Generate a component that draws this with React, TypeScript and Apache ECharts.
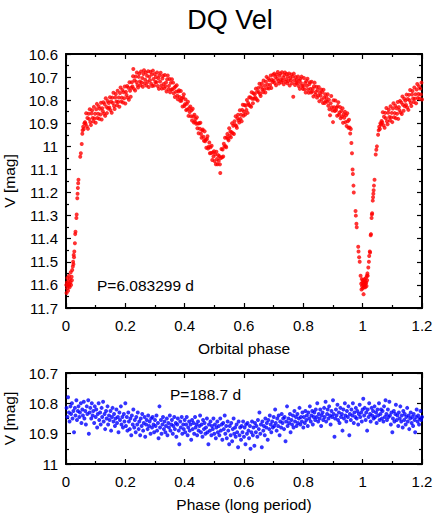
import React, { useEffect, useRef } from "react";
import * as echarts from "echarts";

// ---- Orbital light curve (red), [phase, V mag] ----
const redEgress: number[][] = [
  [0.001, 11.6], [0.002, 11.635], [0.003, 11.59], [0.004, 11.615], [0.005, 11.57], [0.006, 11.6], [0.007, 11.625],
  [0.008, 11.585], [0.009, 11.605], [0.01, 11.56], [0.011, 11.595], [0.012, 11.61], [0.013, 11.575], [0.015, 11.59],
  [0.016, 11.545], [0.017, 11.6], [0.019, 11.565], [0.02, 11.58], [0.021, 11.535], [0.023, 11.52], [0.024, 11.5],
  [0.025, 11.51], [0.026, 11.47], [0.027, 11.48], [0.028, 11.455], [0.03, 11.42], [0.031, 11.38], [0.032, 11.37],
  [0.035, 11.31], [0.036, 11.295], [0.038, 11.225], [0.039, 11.205], [0.04, 11.18], [0.041, 11.16], [0.042, 11.145],
  [0.048, 11.045], [0.05, 11.03], [0.053, 10.99], [0.055, 10.945], [0.056, 10.93], [0.058, 10.915], [0.06, 10.925],
  [0.062, 10.9], [0.064, 10.895],
];
const redRise: number[][] = [
  [0.066, 10.902], [0.068, 10.857], [0.07, 10.913], [0.072, 10.877], [0.074, 10.924], [0.076, 10.859], [0.078, 10.882],
  [0.08, 10.839], [0.082, 10.895], [0.084, 10.908], [0.086, 10.858], [0.088, 10.844], [0.09, 10.877], [0.092, 10.892],
  [0.094, 10.829], [0.096, 10.879], [0.098, 10.859], [0.1, 10.898], [0.102, 10.839], [0.104, 10.816], [0.106, 10.877],
  [0.108, 10.859], [0.11, 10.826], [0.112, 10.881], [0.114, 10.837], [0.116, 10.862], [0.118, 10.811], [0.12, 10.884],
  [0.122, 10.835], [0.124, 10.848], [0.126, 10.809], [0.128, 10.859], [0.13, 10.817], [0.132, 10.868], [0.134, 10.792],
  [0.136, 10.829], [0.138, 10.856], [0.14, 10.804], [0.142, 10.836], [0.144, 10.812], [0.146, 10.832], [0.148, 10.787],
  [0.15, 10.843], [0.152, 10.806], [0.154, 10.854], [0.156, 10.789], [0.158, 10.812], [0.16, 10.768], [0.162, 10.825],
  [0.164, 10.838], [0.166, 10.788], [0.168, 10.773], [0.17, 10.806], [0.172, 10.822], [0.174, 10.759], [0.176, 10.808],
  [0.178, 10.788], [0.18, 10.828], [0.182, 10.769], [0.184, 10.745], [0.186, 10.806], [0.188, 10.789], [0.19, 10.756],
  [0.192, 10.81], [0.194, 10.766], [0.196, 10.792], [0.198, 10.741], [0.2, 10.814], [0.202, 10.764], [0.204, 10.778],
  [0.206, 10.739], [0.208, 10.789], [0.21, 10.746], [0.212, 10.798], [0.214, 10.722], [0.216, 10.759], [0.218, 10.785],
];
const redMaxA: number[][] = [
  [0.22, 10.746], [0.222, 10.722], [0.224, 10.741], [0.226, 10.696], [0.227, 10.665], [0.229, 10.751], [0.231, 10.714],
  [0.233, 10.758], [0.235, 10.697], [0.237, 10.721], [0.239, 10.68], [0.241, 10.734], [0.243, 10.745], [0.245, 10.699],
  [0.247, 10.685], [0.249, 10.719], [0.251, 10.735], [0.253, 10.676], [0.255, 10.723], [0.257, 10.704], [0.259, 10.742],
  [0.261, 10.687], [0.263, 10.67], [0.265, 10.727], [0.267, 10.711], [0.269, 10.68], [0.271, 10.736], [0.273, 10.694],
  [0.275, 10.721], [0.277, 10.675], [0.279, 10.743], [0.281, 10.699], [0.283, 10.714], [0.285, 10.677], [0.287, 10.729],
  [0.289, 10.689], [0.291, 10.739], [0.293, 10.672], [0.295, 10.708], [0.297, 10.736], [0.299, 10.687], [0.301, 10.721],
  [0.303, 10.7], [0.305, 10.722], [0.307, 10.68], [0.309, 10.739], [0.311, 10.705], [0.313, 10.751], [0.315, 10.693],
  [0.317, 10.719], [0.319, 10.681], [0.321, 10.737], [0.323, 10.75], [0.325, 10.706], [0.327, 10.694], [0.329, 10.73],
  [0.331, 10.748], [0.333, 10.691], [0.335, 10.74], [0.337, 10.723], [0.339, 10.762], [0.341, 10.709], [0.343, 10.693],
  [0.345, 10.753], [0.347, 10.738], [0.349, 10.708], [0.351, 10.766], [0.353, 10.725], [0.355, 10.754], [0.357, 10.709],
];
const redFall: number[][] = [
  [0.359, 10.753], [0.361, 10.724], [0.363, 10.77], [0.365, 10.746], [0.367, 10.786], [0.369, 10.741], [0.371, 10.763],
  [0.373, 10.735], [0.375, 10.781], [0.377, 10.796], [0.379, 10.762], [0.381, 10.757], [0.383, 10.786], [0.385, 10.803],
  [0.387, 10.76], [0.389, 10.802], [0.391, 10.792], [0.393, 10.827], [0.395, 10.787], [0.397, 10.774], [0.399, 10.825],
  [0.401, 10.817], [0.403, 10.797], [0.405, 10.843], [0.407, 10.816], [0.409, 10.84], [0.411, 10.807], [0.413, 10.868],
  [0.415, 10.835], [0.417, 10.851], [0.419, 10.827], [0.421, 10.87], [0.423, 10.844], [0.425, 10.888], [0.427, 10.837],
  [0.429, 10.871], [0.431, 10.897], [0.433, 10.863], [0.435, 10.894], [0.437, 10.881], [0.439, 10.902], [0.441, 10.874],
  [0.443, 10.922], [0.445, 10.901], [0.447, 10.943], [0.449, 10.9], [0.451, 10.924], [0.453, 10.898], [0.455, 10.946],
  [0.457, 10.963], [0.459, 10.931], [0.461, 10.927], [0.463, 10.958], [0.465, 10.976], [0.467, 10.935], [0.469, 10.978],
];
const redSecondary: number[][] = [
  [0.471, 10.97], [0.473, 11.006], [0.475, 10.968], [0.477, 10.956], [0.479, 11.009], [0.481, 11.002], [0.483, 10.983],
  [0.485, 11.03], [0.487, 11.004], [0.489, 11.029], [0.491, 10.997], [0.493, 11.059], [0.495, 11.027], [0.497, 11.044],
  [0.499, 11.021], [0.501, 11.064], [0.503, 11.035], [0.505, 11.077], [0.507, 11.023], [0.509, 11.055], [0.511, 11.077],
  [0.513, 11.038], [0.515, 11.062], [0.517, 11.043], [0.519, 11.078], [0.52, 11.115], [0.522, 11.05], [0.524, 11.011],
  [0.526, 11.047], [0.528, 11.014], [0.53, 11.044], [0.532, 10.989], [0.534, 11.001], [0.536, 10.963], [0.538, 10.999],
  [0.54, 11.004], [0.542, 10.961], [0.544, 10.946], [0.546, 10.967], [0.548, 10.974], [0.55, 10.922], [0.552, 10.954],
  [0.554, 10.936], [0.556, 10.961],
];
const redRiseB: number[][] = [
  [0.558, 10.939], [0.56, 10.9], [0.562, 10.943], [0.564, 10.911], [0.566, 10.946], [0.568, 10.891], [0.57, 10.907],
  [0.572, 10.87], [0.574, 10.912], [0.576, 10.92], [0.578, 10.878], [0.58, 10.863], [0.582, 10.887], [0.584, 10.897],
  [0.586, 10.844], [0.588, 10.881], [0.59, 10.863], [0.592, 10.891], [0.594, 10.842], [0.596, 10.82], [0.598, 10.867],
  [0.6, 10.85], [0.602, 10.821], [0.604, 10.862], [0.606, 10.824], [0.608, 10.842], [0.61, 10.799], [0.612, 10.855],
  [0.614, 10.812], [0.616, 10.82], [0.618, 10.787], [0.62, 10.824], [0.622, 10.788], [0.624, 10.828], [0.626, 10.766],
  [0.628, 10.794], [0.63, 10.813], [0.632, 10.77], [0.634, 10.794], [0.636, 10.774], [0.638, 10.788], [0.64, 10.75],
  [0.642, 10.795], [0.644, 10.764], [0.646, 10.801], [0.648, 10.747], [0.65, 10.765], [0.652, 10.729], [0.654, 10.773],
  [0.656, 10.782], [0.658, 10.742], [0.66, 10.728], [0.662, 10.754], [0.664, 10.766], [0.666, 10.715], [0.668, 10.753],
  [0.67, 10.737], [0.672, 10.767], [0.674, 10.72], [0.676, 10.699], [0.678, 10.748], [0.68, 10.733], [0.682, 10.706],
  [0.684, 10.749], [0.686, 10.714], [0.688, 10.734], [0.69, 10.693], [0.692, 10.747], [0.694, 10.711], [0.696, 10.721],
  [0.698, 10.69],
];
const redMaxB: number[][] = [
  [0.7, 10.716], [0.702, 10.685], [0.704, 10.726], [0.706, 10.7], [0.708, 10.735], [0.71, 10.69], [0.712, 10.707],
  [0.714, 10.678], [0.716, 10.717], [0.718, 10.728], [0.72, 10.694], [0.722, 10.685], [0.724, 10.71], [0.726, 10.722],
  [0.728, 10.679], [0.73, 10.715], [0.732, 10.702], [0.734, 10.731], [0.736, 10.691], [0.738, 10.68], [0.74, 10.72],
  [0.742, 10.709], [0.744, 10.687], [0.746, 10.727], [0.748, 10.698], [0.75, 10.717], [0.752, 10.684], [0.754, 10.736],
  [0.756, 10.704], [0.758, 10.714], [0.76, 10.689], [0.762, 10.727], [0.764, 10.698], [0.766, 10.785], [0.768, 10.685],
  [0.77, 10.714], [0.772, 10.734], [0.774, 10.7], [0.776, 10.725], [0.778, 10.711], [0.78, 10.726], [0.782, 10.697],
  [0.784, 10.739], [0.786, 10.715], [0.788, 10.751], [0.79, 10.708], [0.792, 10.726], [0.794, 10.698], [0.796, 10.739],
  [0.798, 10.751],
];
const redFallB: number[][] = [
  [0.8, 10.738], [0.802, 10.704], [0.804, 10.753], [0.806, 10.726], [0.808, 10.767], [0.81, 10.717], [0.812, 10.738],
  [0.814, 10.707], [0.816, 10.754], [0.818, 10.768], [0.82, 10.731], [0.822, 10.722], [0.824, 10.751], [0.826, 10.767],
  [0.828, 10.72], [0.83, 10.762], [0.832, 10.75], [0.834, 10.784], [0.836, 10.74], [0.838, 10.724], [0.84, 10.776],
  [0.842, 10.765], [0.844, 10.742], [0.846, 10.789], [0.848, 10.756], [0.85, 10.78], [0.852, 10.743], [0.854, 10.805],
  [0.856, 10.768], [0.858, 10.781], [0.86, 10.754], [0.862, 10.797], [0.864, 10.766], [0.866, 10.812], [0.868, 10.755],
  [0.87, 10.788], [0.872, 10.812], [0.874, 10.774], [0.876, 10.803], [0.878, 10.788], [0.88, 10.807], [0.882, 10.774],
  [0.884, 10.824], [0.886, 10.798], [0.888, 10.839], [0.89, 10.865], [0.892, 10.813], [0.894, 10.782], [0.896, 10.831],
  [0.898, 10.845], [0.9, 10.895], [0.902, 10.8], [0.904, 10.831], [0.906, 10.847], [0.908, 10.801], [0.91, 10.844],
  [0.912, 10.833], [0.914, 10.867], [0.916, 10.825], [0.918, 10.809], [0.92, 10.863], [0.922, 10.853], [0.924, 10.83],
  [0.926, 10.878], [0.928, 10.847], [0.93, 10.871], [0.932, 10.835], [0.934, 10.898], [0.936, 10.861], [0.938, 10.876],
  [0.94, 10.85], [0.942, 10.895], [0.944, 10.865], [0.946, 10.912], [0.948, 10.857], [0.95, 10.891], [0.952, 10.919],
  [0.954, 10.885], [0.956, 10.918], [0.958, 10.944], [0.96, 10.925],
];
const redPrimary: number[][] = [
  [0.962, 10.985], [0.964, 11.03], [0.966, 11.1], [0.967, 11.12], [0.969, 11.17], [0.97, 11.2], [0.976, 11.28],
  [0.977, 11.3], [0.979, 11.335], [0.98, 11.35], [0.985, 11.435], [0.986, 11.455], [0.988, 11.48], [0.99, 11.5],
  [0.993, 11.56], [0.995, 11.595], [0.996, 11.62], [0.997, 11.575], [0.998, 11.605], [0.999, 11.59], [1.0, 11.615],
  [1.001, 11.58], [1.002, 11.6], [1.003, 11.64], [1.004, 11.59], [1.005, 11.61], [1.006, 11.575], [1.007, 11.6],
  [1.008, 11.585], [1.009, 11.61], [1.01, 11.595], [1.011, 11.57], [1.012, 11.59], [1.013, 11.605], [1.014, 11.56],
  [1.015, 11.58], [1.016, 11.55], [1.017, 11.56], [1.019, 11.525], [1.021, 11.5], [1.022, 11.475], [1.024, 11.455],
  [1.025, 11.46], [1.027, 11.385], [1.028, 11.38], [1.03, 11.31], [1.031, 11.295], [1.032, 11.29], [1.034, 11.235],
  [1.035, 11.22], [1.036, 11.205], [1.037, 11.19], [1.038, 11.17], [1.04, 11.145], [1.044, 11.035], [1.046, 11.015],
  [1.048, 11.0], [1.052, 10.95], [1.054, 10.93], [1.056, 10.915], [1.058, 10.925], [1.06, 10.9], [1.062, 10.905],
  [1.064, 10.89],
];
const redWrap: number[][] = [
  [1.066, 10.897], [1.068, 10.852], [1.07, 10.909], [1.072, 10.872], [1.074, 10.919], [1.076, 10.855], [1.078, 10.878],
  [1.08, 10.834], [1.082, 10.891], [1.084, 10.904], [1.086, 10.854], [1.088, 10.84], [1.09, 10.873], [1.092, 10.888],
  [1.094, 10.826], [1.096, 10.875], [1.098, 10.855], [1.1, 10.895], [1.102, 10.836], [1.104, 10.813], [1.106, 10.874],
  [1.108, 10.856], [1.11, 10.824], [1.112, 10.878], [1.114, 10.835], [1.116, 10.859], [1.118, 10.808], [1.12, 10.881],
  [1.122, 10.83], [1.124, 10.843], [1.126, 10.803], [1.128, 10.853], [1.13, 10.81], [1.132, 10.86], [1.134, 10.784],
  [1.136, 10.82], [1.138, 10.846], [1.14, 10.794], [1.142, 10.826], [1.144, 10.802], [1.146, 10.821], [1.148, 10.776],
  [1.15, 10.832], [1.152, 10.795], [1.154, 10.842], [1.156, 10.777], [1.158, 10.8], [1.16, 10.756], [1.162, 10.812],
  [1.164, 10.825], [1.166, 10.775], [1.168, 10.76], [1.17, 10.793], [1.172, 10.808], [1.174, 10.745], [1.176, 10.794],
  [1.178, 10.774], [1.18, 10.813], [1.182, 10.754], [1.184, 10.73], [1.186, 10.791], [1.188, 10.773], [1.19, 10.74],
  [1.192, 10.794], [1.194, 10.75], [1.196, 10.775], [1.198, 10.724], [1.2, 10.797],
];

// ---- Long-period phase curve (blue), [phase, V mag] ----
const blueA: number[][] = [
  [0.002, 10.815], [0.005, 10.845], [0.007, 10.78], [0.01, 10.83], [0.012, 10.86], [0.015, 10.81], [0.017, 10.835],
  [0.02, 10.8], [0.022, 10.85], [0.025, 10.825], [0.027, 10.895], [0.03, 10.815], [0.032, 10.84], [0.035, 10.79],
  [0.037, 10.855], [0.04, 10.825], [0.042, 10.81], [0.045, 10.845], [0.047, 10.83], [0.05, 10.8], [0.052, 10.865],
  [0.055, 10.82], [0.057, 10.84], [0.06, 10.795], [0.062, 10.85], [0.065, 10.825], [0.067, 10.87], [0.07, 10.81],
  [0.072, 10.835], [0.075, 10.79], [0.077, 10.9], [0.08, 10.83], [0.082, 10.815], [0.085, 10.85], [0.087, 10.8],
  [0.09, 10.84], [0.092, 10.825], [0.095, 10.865], [0.097, 10.81], [0.1, 10.845], [0.102, 10.82], [0.105, 10.88],
  [0.107, 10.835], [0.11, 10.8], [0.112, 10.855], [0.115, 10.83], [0.117, 10.87], [0.12, 10.815], [0.122, 10.845],
  [0.125, 10.795], [0.127, 10.86], [0.13, 10.835], [0.132, 10.885], [0.135, 10.825], [0.137, 10.85], [0.14, 10.81],
  [0.142, 10.87], [0.145, 10.84], [0.147, 10.855], [0.15, 10.825], [0.152, 10.89], [0.155, 10.845], [0.157, 10.815],
  [0.16, 10.86], [0.162, 10.835], [0.165, 10.875], [0.167, 10.85], [0.17, 10.82], [0.172, 10.865], [0.175, 10.845],
  [0.177, 10.895], [0.18, 10.83], [0.182, 10.855], [0.185, 10.81], [0.187, 10.87], [0.19, 10.845], [0.192, 10.88],
  [0.195, 10.835], [0.197, 10.86], [0.2, 10.8],
];
const blueB: number[][] = [
  [0.202, 10.875], [0.205, 10.845], [0.207, 10.89], [0.21, 10.83], [0.212, 10.86], [0.215, 10.885], [0.217, 10.85],
  [0.22, 10.905], [0.222, 10.84], [0.225, 10.87], [0.227, 10.82], [0.23, 10.88], [0.232, 10.855], [0.235, 10.895],
  [0.237, 10.845], [0.24, 10.87], [0.242, 10.83], [0.245, 10.885], [0.247, 10.86], [0.25, 10.905], [0.252, 10.85],
  [0.255, 10.875], [0.257, 10.835], [0.26, 10.89], [0.262, 10.865], [0.265, 10.845], [0.267, 10.91], [0.27, 10.87],
  [0.272, 10.855], [0.275, 10.885], [0.277, 10.84], [0.28, 10.875], [0.282, 10.86], [0.285, 10.9], [0.287, 10.85],
  [0.29, 10.88], [0.292, 10.845], [0.295, 10.87], [0.297, 10.895], [0.3, 10.855], [0.302, 10.875], [0.305, 10.84],
  [0.307, 10.89], [0.31, 10.865], [0.312, 10.915], [0.315, 10.81], [0.317, 10.88], [0.32, 10.855], [0.322, 10.9],
  [0.325, 10.87], [0.327, 10.845], [0.33, 10.885], [0.332, 10.86], [0.335, 10.895], [0.337, 10.875], [0.34, 10.85],
  [0.342, 10.905], [0.345, 10.865], [0.347, 10.88], [0.35, 10.84], [0.352, 10.89], [0.355, 10.87], [0.357, 10.855],
  [0.36, 10.9], [0.362, 10.875], [0.365, 10.845], [0.367, 10.885], [0.37, 10.865], [0.372, 10.91], [0.375, 10.87],
  [0.377, 10.85], [0.38, 10.89], [0.382, 10.935], [0.385, 10.86], [0.387, 10.88], [0.39, 10.845], [0.392, 10.9],
  [0.395, 10.87], [0.397, 10.885], [0.4, 10.855],
];
const blueC: number[][] = [
  [0.402, 10.895], [0.405, 10.87], [0.407, 10.845], [0.41, 10.905], [0.412, 10.88], [0.415, 10.86], [0.417, 10.89],
  [0.42, 10.87], [0.422, 10.92], [0.425, 10.855], [0.427, 10.885], [0.43, 10.865], [0.432, 10.9], [0.435, 10.845],
  [0.437, 10.88], [0.44, 10.87], [0.442, 10.905], [0.445, 10.86], [0.447, 10.89], [0.45, 10.875], [0.452, 10.84],
  [0.455, 10.895], [0.457, 10.87], [0.46, 10.91], [0.462, 10.855], [0.465, 10.885], [0.467, 10.865], [0.47, 10.9],
  [0.472, 10.88], [0.475, 10.85], [0.477, 10.895], [0.48, 10.935], [0.482, 10.87], [0.485, 10.89], [0.487, 10.86],
  [0.49, 10.905], [0.492, 10.875], [0.495, 10.885], [0.497, 10.85], [0.5, 10.9], [0.502, 10.87], [0.505, 10.915],
  [0.507, 10.88], [0.51, 10.86], [0.512, 10.895], [0.515, 10.875], [0.517, 10.905], [0.52, 10.85], [0.522, 10.89],
  [0.525, 10.87], [0.527, 10.92], [0.53, 10.865], [0.532, 10.885], [0.535, 10.84], [0.537, 10.9], [0.54, 10.875],
  [0.542, 10.915], [0.545, 10.86], [0.547, 10.89], [0.55, 10.935], [0.552, 10.875], [0.555, 10.905], [0.557, 10.865],
  [0.56, 10.925], [0.562, 10.885], [0.565, 10.85], [0.567, 10.9], [0.57, 10.88], [0.572, 10.91], [0.575, 10.87],
  [0.577, 10.895], [0.58, 10.945], [0.582, 10.86], [0.585, 10.905], [0.587, 10.88], [0.59, 10.92], [0.592, 10.875],
  [0.595, 10.895], [0.597, 10.86], [0.6, 10.91],
];
const blueD: number[][] = [
  [0.602, 10.88], [0.605, 10.935], [0.607, 10.87], [0.61, 10.9], [0.612, 10.865], [0.615, 10.89], [0.617, 10.915],
  [0.62, 10.875], [0.622, 10.95], [0.625, 10.895], [0.627, 10.86], [0.63, 10.905], [0.632, 10.88], [0.635, 10.94],
  [0.637, 10.865], [0.64, 10.895], [0.642, 10.875], [0.645, 10.91], [0.647, 10.855], [0.65, 10.885], [0.652, 10.83],
  [0.655, 10.9], [0.657, 10.87], [0.66, 10.945], [0.662, 10.86], [0.665, 10.89], [0.667, 10.875], [0.67, 10.905],
  [0.672, 10.85], [0.675, 10.88], [0.677, 10.865], [0.68, 10.92], [0.682, 10.855], [0.685, 10.885], [0.687, 10.84],
  [0.69, 10.87], [0.692, 10.895], [0.695, 10.86], [0.697, 10.88], [0.7, 10.845], [0.702, 10.875], [0.705, 10.82],
  [0.707, 10.865], [0.71, 10.89], [0.712, 10.85], [0.715, 10.875], [0.717, 10.84], [0.72, 10.905], [0.722, 10.86],
  [0.725, 10.88], [0.727, 10.835], [0.73, 10.865], [0.732, 10.85], [0.735, 10.885], [0.737, 10.845], [0.74, 10.925],
  [0.742, 10.86], [0.745, 10.81], [0.747, 10.875], [0.75, 10.85], [0.752, 10.865], [0.755, 10.835], [0.757, 10.895],
  [0.76, 10.855], [0.762, 10.87], [0.765, 10.84], [0.767, 10.88], [0.77, 10.825], [0.772, 10.86], [0.775, 10.845],
  [0.777, 10.875], [0.78, 10.835], [0.782, 10.865], [0.785, 10.85], [0.787, 10.815], [0.79, 10.87], [0.792, 10.845],
  [0.795, 10.86], [0.797, 10.83], [0.8, 10.88],
];
const blueE: number[][] = [
  [0.802, 10.845], [0.805, 10.865], [0.807, 10.825], [0.81, 10.855], [0.812, 10.84], [0.815, 10.875], [0.817, 10.83],
  [0.82, 10.85], [0.822, 10.81], [0.825, 10.86], [0.827, 10.84], [0.83, 10.825], [0.832, 10.87], [0.835, 10.845],
  [0.837, 10.83], [0.84, 10.855], [0.842, 10.82], [0.845, 10.845], [0.847, 10.8], [0.85, 10.86], [0.852, 10.835],
  [0.855, 10.85], [0.857, 10.82], [0.86, 10.875], [0.862, 10.84], [0.865, 10.83], [0.867, 10.855], [0.87, 10.815],
  [0.872, 10.845], [0.875, 10.795], [0.877, 10.86], [0.88, 10.835], [0.882, 10.82], [0.885, 10.85], [0.887, 10.81],
  [0.89, 10.84], [0.892, 10.87], [0.895, 10.825], [0.897, 10.845], [0.9, 10.79], [0.902, 10.835], [0.905, 10.91],
  [0.907, 10.85], [0.91, 10.82], [0.912, 10.84], [0.915, 10.805], [0.917, 10.855], [0.92, 10.83], [0.922, 10.865],
  [0.925, 10.815], [0.927, 10.845], [0.93, 10.835], [0.932, 10.89], [0.935, 10.82], [0.937, 10.85], [0.94, 10.8],
  [0.942, 10.84], [0.945, 10.86], [0.947, 10.825], [0.95, 10.845], [0.952, 10.81], [0.955, 10.905], [0.957, 10.835],
  [0.96, 10.855], [0.962, 10.82], [0.965, 10.84], [0.967, 10.8], [0.97, 10.865], [0.972, 10.83], [0.975, 10.845],
  [0.977, 10.815], [0.98, 10.85], [0.982, 10.825], [0.985, 10.87], [0.987, 10.835], [0.99, 10.805], [0.992, 10.845],
  [0.995, 10.83], [0.997, 10.86], [1.0, 10.82],
];
const blueF: number[][] = [
  [1.002, 10.785], [1.005, 10.84], [1.007, 10.815], [1.01, 10.855], [1.012, 10.83], [1.015, 10.89], [1.017, 10.82],
  [1.02, 10.845], [1.022, 10.8], [1.025, 10.835], [1.027, 10.86], [1.03, 10.815], [1.032, 10.84], [1.035, 10.825],
  [1.037, 10.85], [1.04, 10.81], [1.042, 10.845], [1.045, 10.83], [1.047, 10.865], [1.05, 10.82], [1.052, 10.84],
  [1.055, 10.8], [1.057, 10.855], [1.06, 10.835], [1.062, 10.82], [1.065, 10.85], [1.067, 10.825], [1.07, 10.86],
  [1.072, 10.81], [1.075, 10.845], [1.077, 10.79], [1.08, 10.835], [1.082, 10.855], [1.085, 10.82], [1.087, 10.845],
  [1.09, 10.795], [1.092, 10.84], [1.095, 10.87], [1.097, 10.83], [1.1, 10.895], [1.102, 10.85], [1.105, 10.825],
  [1.107, 10.86], [1.11, 10.835], [1.112, 10.805], [1.115, 10.855], [1.117, 10.84], [1.12, 10.875], [1.122, 10.83],
  [1.125, 10.85], [1.127, 10.81], [1.13, 10.86], [1.132, 10.84], [1.135, 10.88], [1.137, 10.825], [1.14, 10.855],
  [1.142, 10.835], [1.145, 10.87], [1.147, 10.845], [1.15, 10.815], [1.152, 10.86], [1.155, 10.84], [1.157, 10.885],
  [1.16, 10.85], [1.162, 10.83], [1.165, 10.865], [1.167, 10.845], [1.17, 10.875], [1.172, 10.835], [1.175, 10.855],
  [1.177, 10.895], [1.18, 10.845], [1.182, 10.82], [1.185, 10.86], [1.187, 10.84], [1.19, 10.87], [1.192, 10.85],
  [1.195, 10.825], [1.197, 10.855], [1.2, 10.845],
];

const title = "DQ Vel";
const orbitalPeriodLabel = "P=6.083299 d";
const longPeriodLabel = "P=188.7 d";
const yName = "V [mag]";
const topXName = "Orbital phase";
const bottomXName = "Phase (long period)";

const FONT = "'Liberation Sans', Arial, Helvetica, sans-serif";

function frameAxis(opts: any) {
  const { gridIndex, position, min, max, interval, labels, name, nameGap, isY } = opts;
  return {
    type: "value",
    gridIndex,
    position,
    min,
    max,
    interval,
    inverse: isY ? true : false,
    name: name || "",
    nameLocation: "middle",
    nameGap: nameGap || 0,
    nameRotate: isY ? 90 : 0,
    nameTextStyle: { fontSize: 15.5, color: "#000", fontFamily: FONT },
    axisLine: { show: true, onZero: false, lineStyle: { color: "#000", width: 2 } },
    axisTick: { show: true, inside: true, length: 5, lineStyle: { color: "#000", width: 1.2 } },
    minorTick: { show: true, splitNumber: 2, length: 3, lineStyle: { color: "#000", width: 1.2 } },
    splitLine: { show: false },
    minorSplitLine: { show: false },
    axisLabel: {
      show: labels,
      fontSize: 15,
      color: "#000",
      fontFamily: FONT,
      margin: isY ? 8 : 10,
    },
  };
}

export default function App() {
  const ref = useRef<HTMLDivElement>(null);
  useEffect(() => {
    if (!ref.current) return;
    const chart = echarts.init(ref.current, undefined, { renderer: "svg" });
    const redData = [
      ...redEgress, ...redRise, ...redMaxA, ...redFall, ...redSecondary,
      ...redRiseB, ...redMaxB, ...redFallB, ...redPrimary, ...redWrap,
    ];
    const blueData = [...blueA, ...blueB, ...blueC, ...blueD, ...blueE, ...blueF];
    const option: any = {
      animation: false,
      backgroundColor: "#fff",
      textStyle: { fontFamily: FONT },
      grid: [
        { left: 66, top: 54, width: 356, height: 254, containLabel: false, outerBoundsMode: "none" },
        { left: 66, top: 373, width: 356, height: 91, containLabel: false, outerBoundsMode: "none" },
      ],
      xAxis: [
        frameAxis({ gridIndex: 0, position: "bottom", min: 0, max: 1.2, interval: 0.2, labels: true, name: topXName, nameGap: 32 }),
        frameAxis({ gridIndex: 0, position: "top", min: 0, max: 1.2, interval: 0.2, labels: false }),
        frameAxis({ gridIndex: 1, position: "bottom", min: 0, max: 1.2, interval: 0.2, labels: true, name: bottomXName, nameGap: 32 }),
        frameAxis({ gridIndex: 1, position: "top", min: 0, max: 1.2, interval: 0.2, labels: false }),
      ],
      yAxis: [
        frameAxis({ gridIndex: 0, position: "left", min: 10.6, max: 11.7, interval: 0.1, labels: true, name: yName, nameGap: 44, isY: true }),
        frameAxis({ gridIndex: 0, position: "right", min: 10.6, max: 11.7, interval: 0.1, labels: false, isY: true }),
        frameAxis({ gridIndex: 1, position: "left", min: 10.7, max: 11.0, interval: 0.1, labels: true, name: yName, nameGap: 44, isY: true }),
        frameAxis({ gridIndex: 1, position: "right", min: 10.7, max: 11.0, interval: 0.1, labels: false, isY: true }),
      ],
      series: [
        {
          type: "scatter",
          xAxisIndex: 0,
          yAxisIndex: 0,
          data: redData,
          symbol: "circle",
          symbolSize: 4,
          itemStyle: { color: "#ff0000" },
        },
        {
          type: "scatter",
          xAxisIndex: 2,
          yAxisIndex: 2,
          data: blueData,
          symbol: "circle",
          symbolSize: 4,
          itemStyle: { color: "#0000ff" },
        },
      ],
      graphic: [
        {
          type: "text",
          x: 230,
          y: 20,
          style: { text: title, fontSize: 27, fontFamily: FONT, fill: "#000", textAlign: "center", textVerticalAlign: "middle" },
        },
        {
          type: "text",
          x: 97,
          y: 285,
          style: { text: orbitalPeriodLabel, fontSize: 15.5, fontFamily: FONT, fill: "#000", textAlign: "left", textVerticalAlign: "middle" },
        },
        {
          type: "text",
          x: 170,
          y: 394,
          style: { text: longPeriodLabel, fontSize: 15.5, fontFamily: FONT, fill: "#000", textAlign: "left", textVerticalAlign: "middle" },
        },
      ],
    };
    chart.setOption(option);
    return () => chart.dispose();
  }, []);
  return (
    <div
      ref={ref}
      style={{ position: "fixed", left: 0, top: 0, width: 436, height: 515, background: "#fff" }}
    />
  );
}
